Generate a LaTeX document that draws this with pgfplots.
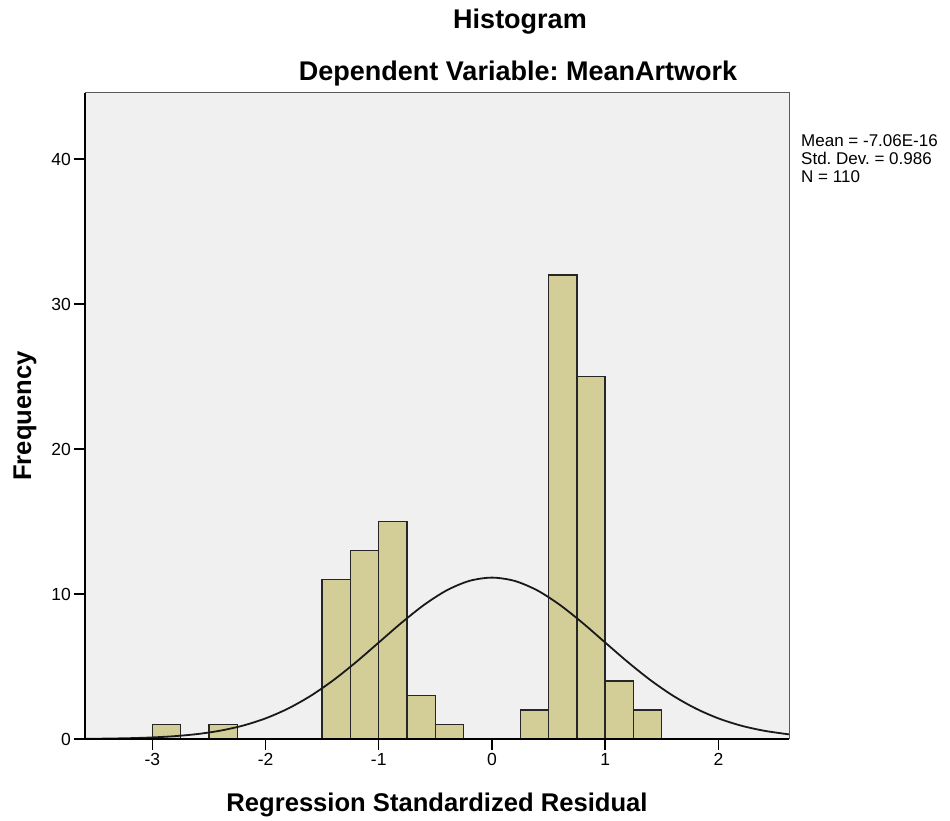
\documentclass[border=0pt]{standalone}
\usepackage{pgfplots}
\pgfplotsset{compat=1.18}
\usepackage{fontspec}
\setmainfont{Liberation Sans}
\frenchspacing
\definecolor{bg}{HTML}{F0F0F0}
\definecolor{barfill}{HTML}{D3CE97}
\begin{document}
\begin{tikzpicture}
\path[use as bounding box] (0pt,0pt) rectangle (950pt,-821pt);
\begin{axis}[
  at={(85pt,-739pt)}, anchor=south west,
  scale only axis, width=704pt, height=646pt,
  xmin=-3.595, xmax=2.624, ymin=0, ymax=44.55,
  axis background/.style={fill=bg},
  axis x line*=bottom, axis y line*=left,
  axis line style={black, line width=1.5pt, -},
  xtick={-3,-2,-1,0,1,2}, ytick={0,10,20,30,40},
  tick align=outside, major tick length=11pt,
  tick style={black, line width=1.4pt},
  ticklabel style={font=\fontsize{17.5}{20}\selectfont},
  xticklabel style={inner sep=3pt},
  yticklabel style={inner sep=3pt},
  /pgf/number format/assume math mode=true,
  clip=false,
]
\addplot[ybar interval, fill=barfill, draw=black!85, line width=1.4pt] coordinates {
(-3.00,1) (-2.75,0) (-2.50,1) (-2.25,0) (-2.00,0) (-1.75,0)
(-1.50,11) (-1.25,13) (-1.00,15) (-0.75,3) (-0.50,1) (-0.25,0)
(0.00,0) (0.25,2) (0.50,32) (0.75,25) (1.00,4) (1.25,2) (1.50,0)
};
\addplot[black!90, line width=1.8pt, smooth, no marks] coordinates {
(-3.595,0.0125) (-3.4,0.0291) (-3.2,0.0575) (-3.0,0.1087) (-2.8,0.1975)
(-2.6,0.344) (-2.4,0.5757) (-2.2,0.9235) (-2.0,1.4226) (-1.8,2.1036)
(-1.6,2.983) (-1.4,4.061) (-1.2,5.307) (-1.0,6.655) (-0.8,8.009)
(-0.6,9.249) (-0.4,10.251) (-0.2,10.903) (0,11.13) (0.2,10.903)
(0.4,10.251) (0.6,9.249) (0.8,8.009) (1.0,6.655) (1.2,5.307)
(1.4,4.061) (1.6,2.983) (1.8,2.104) (2.0,1.423) (2.2,0.9235)
(2.4,0.5757) (2.6,0.344) (2.624,0.324)
};
\draw[gray!70!black, line width=1pt] (rel axis cs:0,1) -- (rel axis cs:1,1) -- (rel axis cs:1,0);
\draw[black, line width=1.5pt] (rel axis cs:0,0) -- (rel axis cs:0,1);
\draw[black, line width=1.5pt] (rel axis cs:0,0) -- (rel axis cs:1,0);
\end{axis}
\node[font=\fontsize{27}{30}\selectfont\bfseries, anchor=base] at (520pt,-29pt) {Histogram};
\node[font=\fontsize{27}{30}\selectfont\bfseries, anchor=base] at (518pt,-81pt) {Dependent Variable: MeanArtwork};
\node[font=\fontsize{25.6}{28}\selectfont\bfseries, anchor=base] at (437pt,-811pt) {Regression Standardized Residual};
\node[font=\fontsize{25.6}{28}\selectfont\bfseries, anchor=base, rotate=90] at (31pt,-416pt) {Frequency};
\node[font=\fontsize{17}{18}\selectfont, anchor=base west, inner sep=0pt] at (801pt,-147pt) {Mean = -7.06E-16};
\node[font=\fontsize{17}{18}\selectfont, anchor=base west, inner sep=0pt] at (801pt,-165pt) {Std. Dev. = 0.986};
\node[font=\fontsize{17}{18}\selectfont, anchor=base west, inner sep=0pt] at (801pt,-183pt) {N = 110};
\end{tikzpicture}
\end{document}
